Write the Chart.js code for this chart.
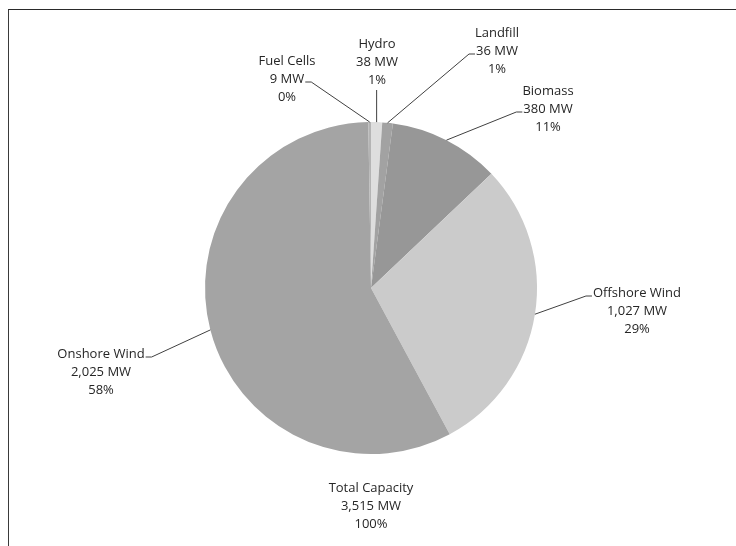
<!DOCTYPE html>
<html>
<head>
<meta charset="utf-8">
<script src="https://cdn.jsdelivr.net/npm/chart.js@4"></script>
<style>
  html, body { margin: 0; padding: 0; background: #fff; overflow: hidden; }
  #wrap { position: relative; width: 736px; height: 546px; }
  #frame {
    position: absolute; left: 8px; top: 9px; width: 800px; height: 600px;
    border-left: 1px solid #3a3a3a; border-top: 1px solid #2a2a2a;
  }
  canvas { position: absolute; left: 0; top: 0; }
</style>
</head>
<body>
<div id="wrap">
  <div id="frame"></div>
  <canvas id="capChart" width="736" height="546"></canvas>
</div>
<script>
// Installed capacity by technology (MW), clockwise from 12 o'clock
const categories = ['Hydro', 'Landfill', 'Biomass', 'Offshore Wind', 'Onshore Wind', 'Fuel Cells'];
const capacityMW = [38, 36, 380, 1027, 2025, 9];
const sliceColors = ['#dedede', '#a2a2a2', '#979797', '#cbcbcb', '#a4a4a4', '#b4b4b4'];

const totalMW = capacityMW.reduce((a, b) => a + b, 0);

// Where each label block sits (centre x, middle of first line) and where its leader attaches
const labelLayout = [
  { x: 377, y: 44, attach: 'bottom' },
  { x: 497, y: 33, attach: 'left', line: 1 },
  { x: 548, y: 91, attach: 'left', line: 1 },
  { x: 637, y: 293, attach: 'left', line: 0 },
  { x: 101, y: 354, attach: 'right', line: 0 },
  { x: 287, y: 61, attach: 'right', line: 1 }
];
const totalLayout = { x: 371, y: 488 };
const LINE_H = 18;
const FONT = '13px "Open Sans", "Noto Sans", sans-serif';

function fmt(n) {
  return n.toString().replace(/\B(?=(\d{3})+(?!\d))/g, ',');
}

function drawBlock(ctx, lines, x, y) {
  lines.forEach((t, i) => ctx.fillText(t, x, y + i * LINE_H));
}

// Data labels with leader lines, plus the total underneath
const calloutPlugin = {
  id: 'callouts',
  afterDatasetsDraw(chart) {
    const ctx = chart.ctx;
    const arcs = chart.getDatasetMeta(0).data;
    ctx.save();
    ctx.font = FONT;
    ctx.fillStyle = '#262626';
    ctx.textAlign = 'center';
    ctx.textBaseline = 'middle';
    ctx.strokeStyle = '#404040';
    ctx.lineWidth = 1;

    arcs.forEach((arc, i) => {
      const pos = labelLayout[i];
      const lines = [
        categories[i],
        fmt(capacityMW[i]) + ' MW',
        Math.round(capacityMW[i] / totalMW * 100) + '%'
      ];
      drawBlock(ctx, lines, pos.x, pos.y);

      // anchor on the outer edge at the slice's middle angle
      const mid = (arc.startAngle + arc.endAngle) / 2;
      const ax = arc.x + Math.cos(mid) * arc.outerRadius;
      const ay = arc.y + Math.sin(mid) * arc.outerRadius;

      ctx.beginPath();
      if (pos.attach === 'bottom') {
        const by = pos.y + (lines.length - 1) * LINE_H + 10;
        ctx.moveTo(ax, by);
        ctx.lineTo(ax, ay);
      } else {
        const w = ctx.measureText(lines[pos.line]).width;
        const ly = pos.y + pos.line * LINE_H + 3;
        const sx = pos.attach === 'left' ? pos.x - w / 2 - 1 : pos.x + w / 2 + 1;
        const ex = pos.attach === 'left' ? sx - 6 : sx + 6;
        ctx.moveTo(sx, ly);
        ctx.lineTo(ex, ly);
        ctx.lineTo(ax, ay);
      }
      ctx.stroke();
    });

    drawBlock(ctx, ['Total Capacity', fmt(totalMW) + ' MW', '100%'], totalLayout.x, totalLayout.y);
    ctx.restore();
  }
};

new Chart(document.getElementById('capChart').getContext('2d'), {
  type: 'pie',
  data: {
    labels: categories,
    datasets: [{
      data: capacityMW,
      backgroundColor: sliceColors,
      borderWidth: 0
    }]
  },
  options: {
    responsive: false,
    animation: false,
    rotation: 0,
    layout: { padding: { left: 205, right: 199, top: 122, bottom: 92 } },
    plugins: {
      legend: { display: false },
      tooltip: { enabled: false }
    }
  },
  plugins: [calloutPlugin]
});
</script>
</body>
</html>
